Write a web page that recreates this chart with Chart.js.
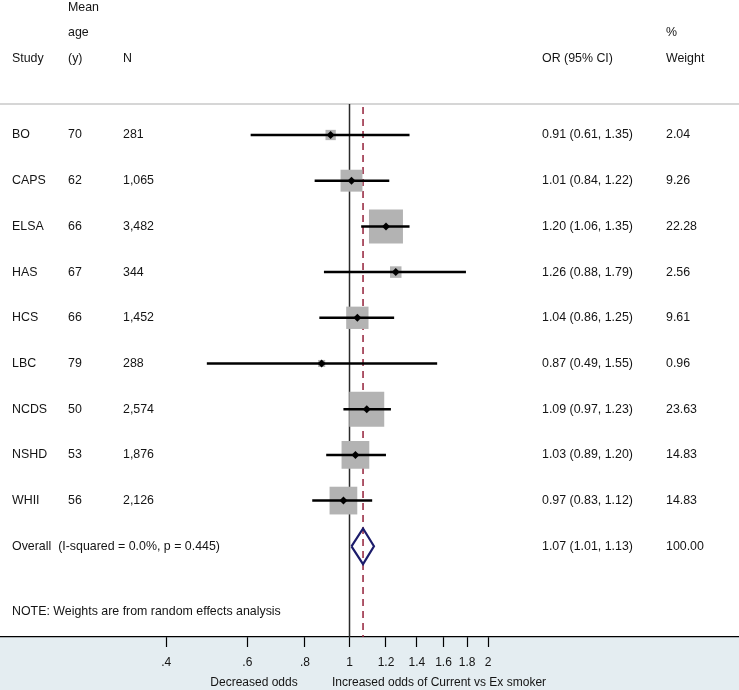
<!DOCTYPE html>
<html>
<head>
<meta charset="utf-8">
<script src="https://cdn.jsdelivr.net/npm/chart.js@4.4.0/dist/chart.umd.min.js"></script>
<style>
    body { margin: 0; background: #fff; }
</style>
</head>
<body>
<canvas id="myChart-forest" width="739" height="690"></canvas>
<script>
// datos del gráfico
const estudios = ['BO', 'CAPS', 'ELSA', 'HAS', 'HCS', 'LBC', 'NCDS', 'NSHD', 'WHII'];
const edades = ['70', '62', '66', '67', '66', '79', '50', '53', '56'];
const tamanos = ['281', '1,065', '3,482', '344', '1,452', '288', '2,574', '1,876', '2,126'];
const razones = [0.91, 1.01, 1.20, 1.26, 1.04, 0.87, 1.09, 1.03, 0.97];
const limInf = [0.61, 0.84, 1.06, 0.88, 0.86, 0.49, 0.97, 0.89, 0.83];
const limSup = [1.35, 1.22, 1.35, 1.79, 1.25, 1.55, 1.23, 1.20, 1.12];
const pesos = [2.04, 9.26, 22.28, 2.56, 9.61, 0.96, 23.63, 14.83, 14.83];
const globalOR = [1.07, 1.01, 1.13];
const globalTexto = ['Overall  (I-squared = 0.0%, p = 0.445)', '1.07 (1.01, 1.13)', '100.00'];
const ticksEje = [0.4, 0.6, 0.8, 1, 1.2, 1.4, 1.6, 1.8, 2];

const fuente = '12.4px "Liberation Sans", Arial, sans-serif';
const colorTexto = '#141414';

document.addEventListener('DOMContentLoaded', function () {
    graficaForest();
});

function etiquetaOR(i) {
    return razones[i].toFixed(2) + ' (' + limInf[i].toFixed(2) + ', ' + limSup[i].toFixed(2) + ')';
}

function graficaForest() {
    const datasets = [];

    // cuadros grises (area segun peso)
    datasets.push({
        type: 'scatter',
        data: razones.map((v, i) => ({ x: v, y: i + 1 })),
        pointStyle: 'rect',
        pointRadius: pesos.map(w => 7.2 * Math.sqrt(w) / Math.SQRT2),
        pointHoverRadius: pesos.map(w => 7.2 * Math.sqrt(w) / Math.SQRT2),
        backgroundColor: '#b3b3b3',
        borderWidth: 0,
        order: 3
    });

    // intervalos de confianza
    estudios.forEach((e, i) => {
        datasets.push({
            type: 'line',
            data: [{ x: limInf[i], y: i + 1 }, { x: limSup[i], y: i + 1 }],
            borderColor: '#000',
            borderWidth: 2.5,
            pointRadius: 0,
            fill: false,
            order: 2
        });
    });

    // punto estimado
    datasets.push({
        type: 'scatter',
        data: razones.map((v, i) => ({ x: v, y: i + 1 })),
        pointStyle: 'rectRot',
        pointRadius: 4,
        backgroundColor: '#000',
        borderWidth: 0,
        order: 1
    });

    // diamante global
    const filaG = estudios.length + 1;
    const alto = 0.39;
    datasets.push({
        type: 'line',
        data: [
            { x: globalOR[1], y: filaG },
            { x: globalOR[0], y: filaG - alto },
            { x: globalOR[2], y: filaG },
            { x: globalOR[0], y: filaG + alto },
            { x: globalOR[1], y: filaG }
        ],
        borderColor: '#1c1c6b',
        borderWidth: 2.2,
        pointRadius: 0,
        fill: false,
        tension: 0,
        order: 1
    });

    // plugin para fondo, lineas de referencia y textos
    const textos = {
        id: 'textos',
        beforeDraw(chart) {
            const ctx = chart.ctx;
            const area = chart.chartArea;
            ctx.save();
            ctx.fillStyle = '#e4edf1';
            ctx.fillRect(0, area.bottom, chart.width, chart.height - area.bottom);
            ctx.restore();
        },
        beforeDatasetsDraw(chart) {
            const ctx = chart.ctx;
            const x = chart.scales.x;
            const area = chart.chartArea;
            const arriba = 104;
            ctx.save();
            // linea de encabezado
            ctx.strokeStyle = '#c8c8c8';
            ctx.lineWidth = 1.5;
            ctx.beginPath();
            ctx.moveTo(0, arriba);
            ctx.lineTo(chart.width, arriba);
            ctx.stroke();
            // linea de no efecto
            const x1 = x.getPixelForValue(1);
            ctx.strokeStyle = '#2a2a2a';
            ctx.lineWidth = 1.5;
            ctx.beginPath();
            ctx.moveTo(x1, arriba);
            ctx.lineTo(x1, area.bottom);
            ctx.stroke();
            // linea del estimado global
            const xg = x.getPixelForValue(globalOR[0]);
            ctx.strokeStyle = '#94203a';
            ctx.lineWidth = 1.5;
            ctx.setLineDash([7, 5]);
            ctx.beginPath();
            ctx.moveTo(xg, arriba + 3);
            ctx.lineTo(xg, area.bottom);
            ctx.stroke();
            ctx.restore();
        },
        afterDraw(chart) {
            const ctx = chart.ctx;
            const y = chart.scales.y;
            ctx.save();
            ctx.font = fuente;
            ctx.fillStyle = colorTexto;
            ctx.textBaseline = 'middle';
            ctx.textAlign = 'left';

            const cols = [12, 68, 123, 542, 666];

            // encabezado
            ctx.fillText('Mean', cols[1], 8);
            ctx.fillText('age', cols[1], 33);
            ctx.fillText('%', cols[4], 33);
            ctx.fillText('Study', cols[0], 59);
            ctx.fillText('(y)', cols[1], 59);
            ctx.fillText('N', cols[2], 59);
            ctx.fillText('OR (95% CI)', cols[3], 59);
            ctx.fillText('Weight', cols[4], 59);

            // filas de estudios
            estudios.forEach((e, i) => {
                const py = y.getPixelForValue(i + 1);
                ctx.fillText(e, cols[0], py);
                ctx.fillText(edades[i], cols[1], py);
                ctx.fillText(tamanos[i], cols[2], py);
                ctx.fillText(etiquetaOR(i), cols[3], py);
                ctx.fillText(pesos[i].toFixed(2), cols[4], py);
            });

            // fila global
            const pg = y.getPixelForValue(estudios.length + 1);
            ctx.fillText(globalTexto[0], cols[0], pg);
            ctx.fillText(globalTexto[1], cols[3], pg);
            ctx.fillText(globalTexto[2], cols[4], pg);

            // nota
            ctx.fillText('NOTE: Weights are from random effects analysis', cols[0], y.getPixelForValue(estudios.length + 2.42));

            // titulo del eje
            ctx.font = '12px "Liberation Sans", Arial, sans-serif';
            ctx.textAlign = 'center';
            ctx.fillText('Decreased odds', 254, 683);
            ctx.fillText('Increased odds of Current vs Ex smoker', 439, 683);
            ctx.restore();
        }
    };

    // Configuración del gráfico
    const config = {
        type: 'scatter',
        data: { datasets: datasets },
        plugins: [textos],
        options: {
            responsive: false,
            animation: false,
            devicePixelRatio: 1,
            layout: { padding: 0, autoPadding: false },
            plugins: {
                legend: { display: false },
                tooltip: { enabled: false }
            },
            scales: {
                x: {
                    type: 'logarithmic',
                    min: 0.1742,
                    max: 7.011,
                    position: 'bottom',
                    afterBuildTicks: (scale) => {
                        scale.ticks = ticksEje.map(v => ({ value: v }));
                    },
                    afterFit: (scale) => {
                        scale.height = 53;
                    },
                    grid: {
                        drawOnChartArea: false,
                        drawTicks: true,
                        tickLength: 10,
                        tickWidth: 1.2,
                        tickColor: '#000'
                    },
                    border: { display: true, color: '#000', width: 1.2 },
                    ticks: {
                        autoSkip: false,
                        maxRotation: 0,
                        padding: 8,
                        color: colorTexto,
                        font: { family: '"Liberation Sans", Arial, sans-serif', size: 12 },
                        callback: (v) => String(v).replace(/^0\./, '.')
                    }
                },
                y: {
                    type: 'linear',
                    display: false,
                    reverse: true,
                    min: -1.954,
                    max: 11.985
                }
            }
        }
    };

    // Renderizar el gráfico en el canvas
    const ctx = document.getElementById('myChart-forest').getContext('2d');
    new Chart(ctx, config);
}
</script>
</body>
</html>
